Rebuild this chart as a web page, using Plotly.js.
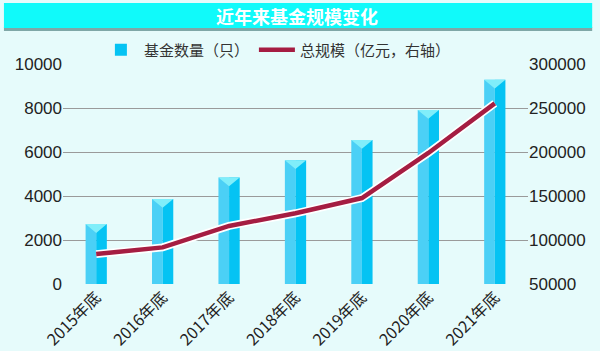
<!DOCTYPE html>
<html>
<head>
<meta charset="utf-8">
<script src="https://cdn.plot.ly/plotly-3.0.1.min.js"></script>
<style>
html,body{margin:0;padding:0;background:#e6fbfb;}
#chart{width:600px;height:351px;}
</style>
</head>
<body>
<div id="chart"></div>
<script>
const categories = ["2015年底","2016年底","2017年底","2018年底","2019年底","2020年底","2021年底"];
const fundCount = [2722, 3867, 4841, 5626, 6544, 7913, 9288];
const totalScale = [83971, 91593, 115996, 130347, 147672, 198914, 255300];
const leftTicks = [0, 2000, 4000, 6000, 8000, 10000];
const rightTicks = [50000, 100000, 150000, 200000, 250000, 300000];

const idx = categories.map((c, i) => i);
const halfW = 0.16;
const notch = 400;

// top notch triangles built from data
const triX = [], triY = [];
fundCount.forEach((v, i) => {
  triX.push(i - halfW, i + halfW, i, i - halfW, null);
  triY.push(v, v, v - notch, v, null);
});

const numFont = "Liberation Sans, Arial, Noto Sans CJK SC, sans-serif";
const cjkFont = "Noto Sans CJK SC, Liberation Sans, sans-serif";

const traces = [
  {type:'bar', x: idx, y: fundCount, width: halfW, offset: -halfW,
   marker:{color:'#4bd0f6', line:{width:0}}, showlegend:false, hoverinfo:'skip'},
  {type:'bar', x: idx, y: fundCount, width: halfW, offset: 0,
   marker:{color:'#05c3f3', line:{width:0}}, name:'基金数量（只）', showlegend:true},
  {type:'scatter', mode:'lines', x: triX, y: triY, fill:'toself', fillcolor:'#80eefa',
   line:{width:0, color:'#80eefa'}, showlegend:false, hoverinfo:'skip'},
  {type:'scatter', mode:'lines', x: idx, y: totalScale, yaxis:'y2',
   line:{color:'#ffffff', width:8}, showlegend:false, hoverinfo:'skip'},
  {type:'scatter', mode:'lines', x: idx, y: totalScale, yaxis:'y2',
   line:{color:'#a51d42', width:4.5}, name:'总规模（亿元，右轴）', showlegend:true}
];

const layout = {
  width:600, height:351,
  paper_bgcolor:'#e6fbfb', plot_bgcolor:'#e6fbfb',
  margin:{l:63, r:72, t:64, b:67},
  barmode:'overlay',
  showlegend:true,
  legend:{orientation:'h', x:0.46, xanchor:'center', y:1.064, yanchor:'middle',
    font:{family:cjkFont, size:15, color:'#333'}, bgcolor:'rgba(0,0,0,0)', itemwidth:36,
    traceorder:'normal'},
  xaxis:{range:[-0.5, 6.5], tickvals: idx, ticktext: categories, tickangle:-45,
    showgrid:false, zeroline:false, showline:false, ticks:'',
    tickfont:{family:cjkFont, size:16, color:'#222'}},
  yaxis:{range:[0, 10000], tickvals:leftTicks, ticktext:leftTicks.map(String),
    showgrid:true, gridcolor:'#9a9a9a', gridwidth:1, zeroline:false, showline:false,
    ticks:'', tickfont:{family:numFont, size:17, color:'#222'}},
  yaxis2:{range:[50000, 300000], tickvals:rightTicks, ticktext:rightTicks.map(String),
    overlaying:'y', side:'right', showgrid:false, zeroline:false, showline:false,
    ticks:'', tickfont:{family:numFont, size:17, color:'#222'}},
  shapes:[
    {type:'rect', xref:'paper', yref:'paper', x0:-0.127, x1:1.138, y0:1.150, y1:1.168,
     fillcolor:'#7fa7a7', line:{width:0}, layer:'above'},
    {type:'rect', xref:'paper', yref:'paper', x0:-0.127, x1:1.138, y0:1.164, y1:1.277,
     fillcolor:'#10fafa', line:{width:0}, layer:'above'}
  ],
  annotations:[
    {xref:'paper', yref:'paper', x:0.503, y:1.218, xanchor:'center', yanchor:'middle',
     text:'<b>近年来基金规模变化</b>', showarrow:false,
     font:{family:cjkFont, size:18, color:'#ffffff'}}
  ]
};

Plotly.newPlot('chart', traces, layout, {staticPlot:true});
</script>
</body>
</html>
